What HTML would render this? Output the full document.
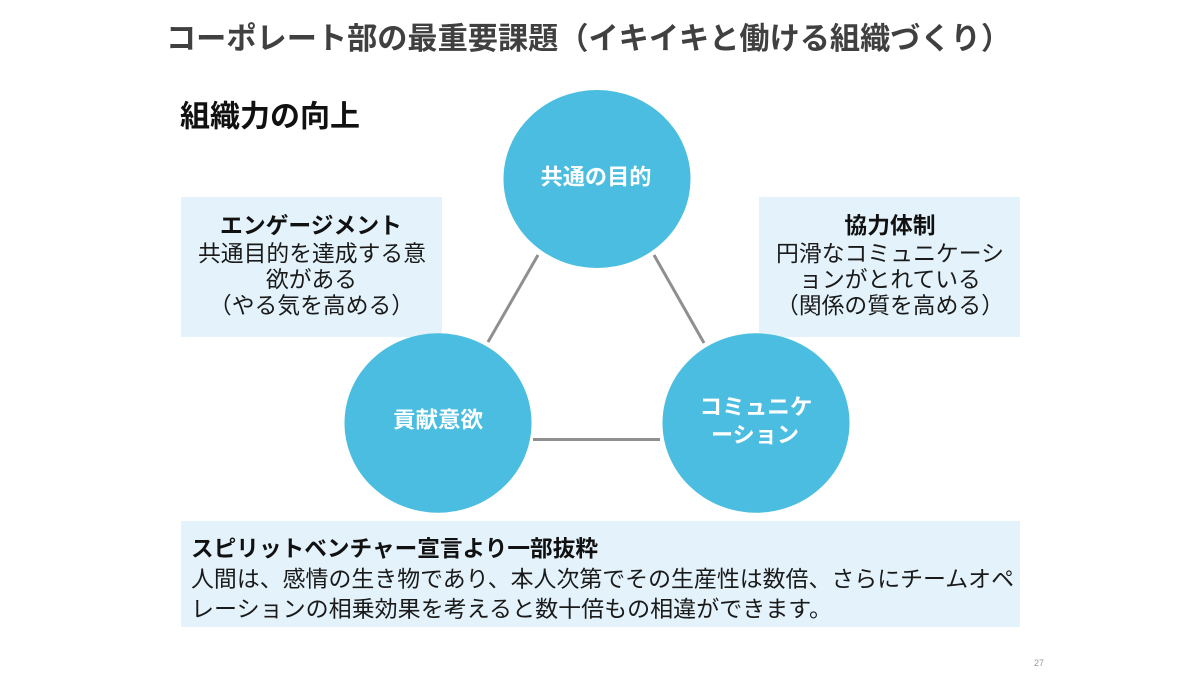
<!DOCTYPE html>
<html>
<head>
<meta charset="utf-8">
<style>
  html, body { margin:0; padding:0; background:#ffffff; }
  body { width:1200px; height:675px; overflow:hidden; }
  svg { display:block; }
  text { font-family: "Liberation Sans", "Noto Sans CJK JP", sans-serif; }
</style>
</head>
<body>
<svg width="1200" height="675" viewBox="0 0 1200 675" xmlns="http://www.w3.org/2000/svg">
  <rect x="0" y="0" width="1200" height="675" fill="#ffffff"/>

  <!-- Title -->
  <text x="166" y="49" font-size="30.5" font-weight="bold" fill="#404040" textLength="845" lengthAdjust="spacingAndGlyphs">コーポレート部の最重要課題（イキイキと働ける組織づくり）</text>

  <!-- Subtitle -->
  <text x="180" y="126.5" font-size="30" font-weight="bold" fill="#111111" textLength="180" lengthAdjust="spacingAndGlyphs">組織力の向上</text>

  <!-- Left box -->
  <rect x="181" y="197" width="261" height="140" fill="#E4F3FB"/>
  <g text-anchor="middle" font-size="22.8" fill="#1a1a1a">
    <text x="311" y="233.5" font-weight="bold" fill="#111">エンゲージメント</text>
    <text x="312" y="261.5" textLength="228" lengthAdjust="spacingAndGlyphs">共通目的を達成する意</text>
    <text x="311.5" y="287.5">欲がある</text>
    <text x="311.5" y="313.5">（やる気を高める）</text>
  </g>

  <!-- Right box -->
  <rect x="759" y="197" width="261" height="140" fill="#E4F3FB"/>
  <g text-anchor="middle" font-size="22.8" fill="#1a1a1a">
    <text x="890" y="233.5" font-weight="bold" fill="#111">協力体制</text>
    <text x="890" y="261.5" textLength="228" lengthAdjust="spacingAndGlyphs">円滑なコミュニケーシ</text>
    <text x="890" y="287.5">ョンがとれている</text>
    <text x="890" y="313.5">（関係の質を高める）</text>
  </g>

  <!-- Connector lines -->
  <g stroke="#8f8f8f" stroke-width="3" fill="none">
    <line x1="538" y1="255" x2="488" y2="342"/>
    <line x1="654" y1="255" x2="704" y2="343"/>
    <line x1="533" y1="439.5" x2="660" y2="439.5"/>
  </g>

  <!-- Circles -->
  <g fill="#4ABDE0">
    <ellipse cx="597" cy="179" rx="93.5" ry="89"/>
    <ellipse cx="438" cy="423" rx="93.5" ry="89.7"/>
    <ellipse cx="756" cy="423" rx="93.5" ry="89.7"/>
  </g>
  <g text-anchor="middle" font-size="22" font-weight="bold" fill="#ffffff">
    <text x="596" y="184.5" textLength="111" lengthAdjust="spacingAndGlyphs">共通の目的</text>
    <text x="438" y="427.5" textLength="90" lengthAdjust="spacingAndGlyphs">貢献意欲</text>
    <text x="756" y="414.5" textLength="113" lengthAdjust="spacingAndGlyphs">コミュニケ</text>
    <text x="755" y="442.5" textLength="88" lengthAdjust="spacingAndGlyphs">ーション</text>
  </g>

  <!-- Bottom box -->
  <rect x="181" y="521" width="839" height="106" fill="#E4F3FB"/>
  <text x="191" y="556.5" font-size="22.6" font-weight="bold" fill="#111" textLength="407" lengthAdjust="spacingAndGlyphs">スピリットベンチャー宣言より一部抜粋</text>
  <text x="191" y="586.8" font-size="22.8" fill="#1a1a1a" textLength="823" lengthAdjust="spacingAndGlyphs">人間は、感情の生き物であり、本人次第でその生産性は数倍、さらにチームオペ</text>
  <text x="191" y="616.8" font-size="22.8" fill="#1a1a1a" textLength="641" lengthAdjust="spacingAndGlyphs">レーションの相乗効果を考えると数十倍もの相違ができます。</text>

  <!-- Page number -->
  <text x="1039" y="666" font-size="9" fill="#999999" text-anchor="middle">27</text>
</svg>
</body>
</html>
